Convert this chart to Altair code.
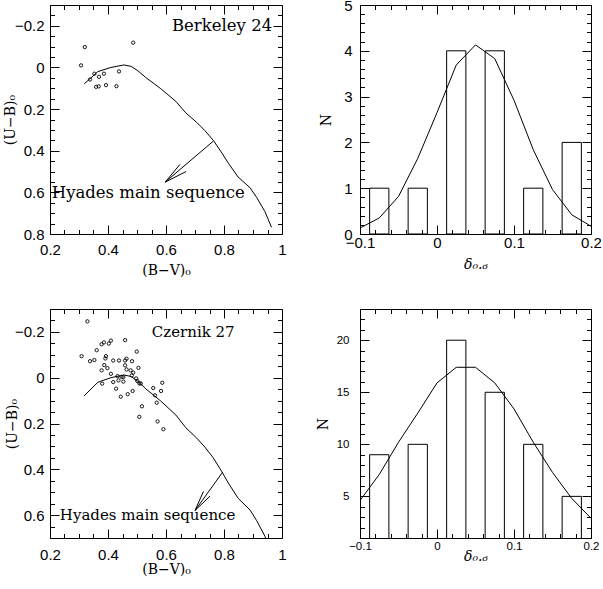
import altair as alt
import pandas as pd

# ---------------- data ----------------
# Berkeley 24 stars (B-V)0, (U-B)0
B24_BV = [0.320, 0.307, 0.487, 0.338, 0.353, 0.369, 0.386, 0.438, 0.359, 0.368, 0.393, 0.429]
B24_UB = [-0.098, -0.010, -0.119, 0.058, 0.030, 0.045, 0.030, 0.019, 0.093, 0.091, 0.085, 0.090]

# Czernik 27 stars
C27_BV = [0.329, 0.309, 0.338, 0.353, 0.361, 0.378, 0.386, 0.403, 0.410, 0.459,
          0.393, 0.391, 0.418, 0.438, 0.459, 0.464, 0.483, 0.499, 0.387, 0.378,
          0.398, 0.459, 0.464, 0.478, 0.487, 0.505, 0.410, 0.433, 0.447, 0.453,
          0.436, 0.453, 0.482, 0.497, 0.501, 0.513, 0.508, 0.380, 0.418, 0.428,
          0.444, 0.468, 0.485, 0.556, 0.562, 0.568, 0.583, 0.587, 0.517, 0.508,
          0.571, 0.591]
C27_UB = [-0.246, -0.094, -0.072, -0.077, -0.120, -0.146, -0.154, -0.149, -0.162, -0.164,
          -0.094, -0.084, -0.075, -0.075, -0.075, -0.083, -0.072, -0.114, -0.055, -0.032,
          -0.042, -0.054, -0.036, -0.032, -0.022, -0.043, -0.017, -0.007, -0.003, -0.003,
          0.012, 0.017, -0.010, 0.003, 0.014, 0.025, 0.025, 0.026, 0.019, 0.048,
          0.083, 0.072, 0.058, 0.045, 0.077, 0.109, 0.058, 0.022, 0.125, 0.171,
          0.191, 0.225]

# Hyades main sequence
HY_BV = [0.318, 0.365, 0.410, 0.455, 0.480, 0.503, 0.530, 0.582, 0.634, 0.668,
         0.706, 0.734, 0.763, 0.790, 0.815, 0.849, 0.890, 0.913, 0.941, 0.964]
HY_UB = [0.079, 0.020, 0.000, -0.012, -0.005, 0.016, 0.048, 0.102, 0.163, 0.218,
         0.264, 0.303, 0.350, 0.405, 0.460, 0.527, 0.578, 0.625, 0.692, 0.768]

# arrows (shaft + two barbs): start, end
B24_ARROW = {"x": [0.763, 0.597, 0.597], "y": [0.354, 0.551, 0.551],
             "x2": [0.597, 0.648, 0.669], "y2": [0.551, 0.466, 0.500]}
C27_ARROW = {"x": [0.795, 0.700, 0.700], "y": [0.413, 0.580, 0.580],
             "x2": [0.700, 0.729, 0.752], "y2": [0.580, 0.497, 0.517]}

# histograms of delta_0.6
BIN_LO = [-0.0875, -0.0375, 0.0125, 0.0625, 0.1125, 0.1625]
BIN_HI = [-0.0625, -0.0125, 0.0375, 0.0875, 0.1375, 0.1875]
B24_N = [1, 1, 4, 4, 1, 2]
C27_N = [9, 10, 20, 15, 10, 5]

FIT_X = [-0.1, -0.075, -0.05, -0.025, 0.0, 0.025, 0.05, 0.075, 0.1, 0.125, 0.15, 0.175, 0.2]
B24_FIT = [0.13, 0.35, 0.82, 1.65, 2.65, 3.69, 4.13, 3.83, 2.92, 1.84, 0.97, 0.42, 0.17]
C27_FIT = [4.6, 7.1, 10.2, 13.0, 15.9, 17.4, 17.4, 15.9, 13.4, 10.2, 7.3, 4.8, 2.9]

# tick values (major, minor)
SC_X_MAJ = [0.2, 0.4, 0.6, 0.8, 1.0]
SC_X_MIN = [0.25, 0.3, 0.35, 0.45, 0.5, 0.55, 0.65, 0.7, 0.75, 0.85, 0.9, 0.95]
B24_Y_MAJ = [-0.2, 0.0, 0.2, 0.4, 0.6, 0.8]
B24_Y_MIN = [-0.3, -0.25, -0.15, -0.1, -0.05, 0.05, 0.1, 0.15, 0.25, 0.3, 0.35,
             0.45, 0.5, 0.55, 0.65, 0.7, 0.75]
C27_Y_MAJ = [-0.2, 0.0, 0.2, 0.4, 0.6]
C27_Y_MIN = [-0.3, -0.25, -0.15, -0.1, -0.05, 0.05, 0.1, 0.15, 0.25, 0.3, 0.35,
             0.45, 0.5, 0.55, 0.65, 0.7]
H_X_MAJ = [-0.1, 0.0, 0.1, 0.2]
H_X_MIN = [-0.08, -0.06, -0.04, -0.02, 0.02, 0.04, 0.06, 0.08,
           0.12, 0.14, 0.16, 0.18]
B24_N_MAJ = [0, 1, 2, 3, 4, 5]
B24_N_MIN = [0.2, 0.4, 0.6, 0.8, 1.2, 1.4, 1.6, 1.8, 2.2, 2.4, 2.6, 2.8,
             3.2, 3.4, 3.6, 3.8, 4.2, 4.4, 4.6, 4.8]
C27_N_MAJ = [5, 10, 15, 20]
C27_N_MIN = [1, 2, 3, 4, 6, 7, 8, 9, 11, 12, 13, 14, 16, 17, 18, 19, 21, 22, 23]

SERIF = "DejaVu Serif"
SANS = "Liberation Sans"
MAJ = 9
MIN = 4.5


def ax_major(orient, vals, title, pad, tx=None, ty=None, lsize=15, italic=False):
    kw = dict(orient=orient, values=vals, domain=False, grid=False,
              ticks=True, zindex=1, tickOpacity=1,
              offset=-MAJ, tickSize=MAJ, tickColor="#000000", tickWidth=1,
              labelOverlap=False, labelFlush=False,
              labelFont=SANS, labelFontSize=lsize, labelColor="black",
              labelPadding=pad, format="~g",
              title=title, titleFont=SERIF, titleFontSize=14,
              titleFontWeight="normal", titleColor="black",
              titleBaseline="middle")
    if tx is not None:
        kw["titleX"] = tx - MAJ
    if ty is not None:
        kw["titleY"] = ty + MAJ
    if italic:
        kw["titleFontStyle"] = "italic"
    return alt.Axis(**kw)


def ax_plain(orient, vals, size):
    return alt.Axis(orient=orient, values=vals, domain=False, grid=False,
                    ticks=True, zindex=1, tickOpacity=1,
                    offset=-size, tickSize=size, tickColor="#000000", tickWidth=1,
                    labels=False, title=None)


def scatter_panel(bv, ub, ydom, ymaj, ymin, arrow, name, name_x, name_align,
                  hy_x, hy_y, xpad, ypad, xty, ytx, fsize):
    xs = alt.Scale(domain=[0.2, 1.0], nice=False, zero=False)
    ys = alt.Scale(domain=ydom, nice=False, zero=False, reverse=True)
    stars = pd.DataFrame({"bv": bv, "ub": ub})
    hy = pd.DataFrame({"bv": HY_BV, "ub": HY_UB})
    arr = pd.DataFrame(arrow)

    line = alt.Chart(hy).mark_line(color="black", strokeWidth=1, clip=True).encode(
        x=alt.X("bv:Q", scale=xs,
                axis=ax_major("bottom", SC_X_MAJ, "(B−V)₀", xpad, ty=xty)),
        y=alt.Y("ub:Q", scale=ys,
                axis=ax_major("left", ymaj, "(U−B)₀", ypad, tx=ytx)),
    )
    pts = alt.Chart(stars).mark_point(shape="circle", filled=False, color="black",
                                      size=11, strokeWidth=0.9, opacity=1).encode(
        x=alt.X("bv:Q", scale=xs, axis=ax_plain("bottom", SC_X_MIN, MIN)),
        y=alt.Y("ub:Q", scale=ys, axis=ax_plain("left", ymin, MIN)),
    )
    arrows = alt.Chart(arr).mark_rule(color="black", strokeWidth=1).encode(
        x=alt.X("x:Q", scale=xs, axis=ax_plain("top", SC_X_MAJ, MAJ)),
        y=alt.Y("y:Q", scale=ys, axis=ax_plain("right", ymaj, MAJ)),
        x2="x2:Q", y2="y2:Q",
    )
    lab = alt.Chart(pd.DataFrame({"x": [name_x], "y": [-0.2], "t": [name]})).mark_text(
        align=name_align, baseline="middle", font=SERIF, fontSize=fsize, color="black").encode(
        x=alt.X("x:Q", scale=xs, axis=ax_plain("top", SC_X_MIN, MIN)),
        y=alt.Y("y:Q", scale=ys, axis=ax_plain("right", ymin, MIN)),
        text="t:N")
    hyl = alt.Chart(pd.DataFrame({"x": [hy_x], "y": [hy_y], "t": ["Hyades main sequence"]})).mark_text(
        align="left", baseline="middle", font=SERIF, fontSize=fsize, color="black").encode(
        x=alt.X("x:Q", scale=xs, axis=None), y=alt.Y("y:Q", scale=ys, axis=None), text="t:N")
    return alt.layer(line, pts, arrows, lab, hyl).resolve_axis(
        x="independent", y="independent").properties(width=232, height=229)


def hist_panel(counts, fit, ydom, ymaj, ymin, xpad, ypad, xty, ytx, lsize):
    xs = alt.Scale(domain=[-0.1, 0.2], nice=False, zero=False)
    ys = alt.Scale(domain=ydom, nice=False, zero=False)
    bars = pd.DataFrame({"lo": BIN_LO, "hi": BIN_HI, "n": counts})
    fitd = pd.DataFrame({"x": FIT_X, "n": fit})
    b = alt.Chart(bars).mark_rect(fillOpacity=0, stroke="black", strokeWidth=1, clip=True).encode(
        x=alt.X("lo:Q", scale=xs,
                axis=ax_major("bottom", H_X_MAJ, "δ₀.₆", xpad, ty=xty, lsize=lsize, italic=True)),
        x2="hi:Q",
        y=alt.Y("n:Q", scale=ys,
                axis=ax_major("left", ymaj, "N", ypad, tx=ytx, lsize=lsize)),
        y2=alt.datum(0),
    )
    f = alt.Chart(fitd).mark_line(color="black", strokeWidth=1, clip=True).encode(
        x=alt.X("x:Q", scale=xs, axis=ax_plain("bottom", H_X_MIN, MIN)),
        y=alt.Y("n:Q", scale=ys, axis=ax_plain("left", ymin, MIN)),
    )
    f2 = alt.Chart(fitd).mark_line(strokeOpacity=0, clip=True).encode(
        x=alt.X("x:Q", scale=xs, axis=ax_plain("top", H_X_MAJ, MAJ)),
        y=alt.Y("n:Q", scale=ys, axis=ax_plain("right", ymaj, MAJ)),
    )
    f3 = alt.Chart(fitd).mark_line(strokeOpacity=0, clip=True).encode(
        x=alt.X("x:Q", scale=xs, axis=ax_plain("top", H_X_MIN, MIN)),
        y=alt.Y("n:Q", scale=ys, axis=ax_plain("right", ymin, MIN)),
    )
    return alt.layer(b, f, f2, f3).resolve_axis(x="independent", y="independent").properties(
        width=231, height=229)


tl = scatter_panel(B24_BV, B24_UB, [-0.3, 0.8], B24_Y_MAJ, B24_Y_MIN, B24_ARROW,
                   "Berkeley 24", 0.966, "right", 0.206, 0.603,
                   xpad=8, ypad=6, xty=36, ytx=-40, fsize=16.5)
tr = hist_panel(B24_N, B24_FIT, [0, 5], B24_N_MAJ, B24_N_MIN,
                xpad=1, ypad=8, xty=30, ytx=-34, lsize=15)
bl = scatter_panel(C27_BV, C27_UB, [-0.3, 0.7], C27_Y_MAJ, C27_Y_MIN, C27_ARROW,
                   "Czernik 27", 0.551, "left", 0.234, 0.600,
                   xpad=9.5, ypad=6, xty=31, ytx=-38, fsize=15)
br = hist_panel(C27_N, C27_FIT, [1, 23], C27_N_MAJ, C27_N_MIN,
                xpad=2, ypad=11, xty=18, ytx=-37, lsize=11.5)

chart = alt.concat(tl, tr, bl, br, columns=2, spacing={"row": 75, "column": 78},
                   bounds="flush").properties(
    padding={"left": 2, "top": -3, "right": 0, "bottom": 0},
    background="white",
).configure_view(stroke="black", strokeWidth=1)

chart.save("out.html", embed_options={"renderer": "svg", "actions": False})
